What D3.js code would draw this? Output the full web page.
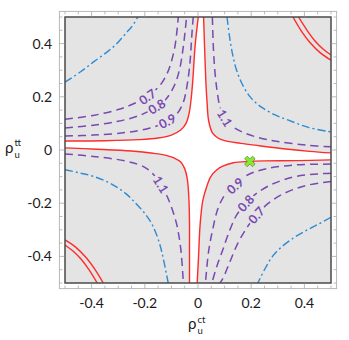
<!DOCTYPE html>
<html>
<head>
<meta charset="utf-8">
<script src="https://cdn.jsdelivr.net/npm/d3@7"></script>
<style>
  body { margin: 0; background: #fff; }
  svg { display: block; font-family: Lato, "Open Sans", sans-serif; }
</style>
</head>
<body>
<div id="chart"></div>
<script>
// contour plot, rho_u^ct vs rho_u^tt

var width = 349,
    height = 340;

// tick labels
var xTicks = [-0.4, -0.2, 0, 0.2, 0.4];
var yTicks = [-0.4, -0.2, 0, 0.2, 0.4];

// red boundary curves around the white region
var redTL = [[-0.5,0.034],[-0.35,0.035],[-0.22,0.039],[-0.15,0.045],[-0.1,0.056],[-0.065,0.075],[-0.045,0.1],[-0.033,0.14],[-0.025,0.2],[-0.019,0.27],[-0.011,0.39],[0.001,0.5]];
var redTR = [[0.021,0.5],[0.025,0.38],[0.029,0.27],[0.034,0.18],[0.04,0.11],[0.055,0.063],[0.075,0.045],[0.1,0.035],[0.16,0.025],[0.23,0.016],[0.33,0.004],[0.42,-0.005],[0.5,-0.011]];
var redBR = [[0.5,-0.037],[0.37,-0.04],[0.25,-0.041],[0.19,-0.043],[0.133,-0.048],[0.093,-0.061],[0.07,-0.075],[0.048,-0.1],[0.032,-0.14],[0.018,-0.19],[0.008,-0.28],[0.002,-0.4],[-0.003,-0.5]];
var redBL = [[-0.032,-0.5],[-0.032,-0.38],[-0.032,-0.27],[-0.034,-0.19],[-0.04,-0.11],[-0.05,-0.07],[-0.065,-0.045],[-0.09,-0.03],[-0.12,-0.02],[-0.17,-0.012],[-0.25,-0.004],[-0.38,0.003],[-0.5,0.008]];

// red double lines in the corners
var redCornerTR1 = [[0.378,0.5],[0.41,0.45],[0.44,0.41],[0.47,0.38],[0.5,0.357]];
var redCornerTR2 = [[0.357,0.5],[0.39,0.445],[0.42,0.405],[0.46,0.365],[0.5,0.338]];
var redCornerBL1 = [[-0.5,-0.357],[-0.47,-0.38],[-0.44,-0.41],[-0.41,-0.45],[-0.379,-0.5]];
var redCornerBL2 = [[-0.5,-0.338],[-0.46,-0.365],[-0.42,-0.405],[-0.39,-0.445],[-0.356,-0.5]];

// blue dash-dot curves
var blueTL = [[-0.5,0.255],[-0.44,0.295],[-0.39,0.333],[-0.34,0.37],[-0.305,0.4],[-0.27,0.44],[-0.248,0.465],[-0.226,0.5]];
var blueTR = [[0.109,0.5],[0.118,0.43],[0.13,0.36],[0.145,0.3],[0.17,0.24],[0.2,0.195],[0.24,0.16],[0.29,0.132],[0.34,0.112],[0.415,0.085],[0.5,0.068]];
var blueBR = [[0.5,-0.253],[0.45,-0.28],[0.406,-0.303],[0.36,-0.33],[0.31,-0.368],[0.28,-0.4],[0.25,-0.45],[0.225,-0.5]];
var blueBL = [[-0.5,-0.074],[-0.45,-0.085],[-0.394,-0.099],[-0.33,-0.125],[-0.27,-0.165],[-0.23,-0.205],[-0.195,-0.245],[-0.17,-0.285],[-0.145,-0.35],[-0.128,-0.42],[-0.112,-0.5]];

// purple dashed contours
var p07TL = [[-0.5,0.116],[-0.394,0.13],[-0.3,0.152],[-0.24,0.175],[-0.185,0.205],[-0.143,0.243],[-0.115,0.29],[-0.098,0.34],[-0.085,0.4],[-0.074,0.5]];
var p08TL = [[-0.5,0.083],[-0.394,0.093],[-0.3,0.108],[-0.22,0.13],[-0.16,0.16],[-0.12,0.192],[-0.09,0.24],[-0.07,0.3],[-0.055,0.39],[-0.043,0.5]];
var p09TL = [[-0.5,0.053],[-0.394,0.056],[-0.27,0.066],[-0.18,0.083],[-0.12,0.105],[-0.08,0.135],[-0.055,0.18],[-0.04,0.25],[-0.03,0.33],[-0.024,0.42],[-0.018,0.5]];
var p09BR = [[0.5,-0.053],[0.368,-0.056],[0.26,-0.07],[0.19,-0.092],[0.14,-0.125],[0.1,-0.17],[0.075,-0.22],[0.055,-0.3],[0.04,-0.38],[0.028,-0.5]];
var p08BR = [[0.5,-0.087],[0.37,-0.099],[0.28,-0.128],[0.22,-0.163],[0.18,-0.2],[0.145,-0.245],[0.12,-0.3],[0.095,-0.37],[0.07,-0.44],[0.052,-0.5]];
var p07BR = [[0.5,-0.118],[0.4,-0.135],[0.32,-0.165],[0.265,-0.2],[0.22,-0.245],[0.185,-0.29],[0.15,-0.35],[0.12,-0.42],[0.095,-0.48],[0.083,-0.5]];
var p11TR = [[0.054,0.5],[0.058,0.38],[0.064,0.29],[0.072,0.22],[0.082,0.165],[0.1,0.12],[0.13,0.088],[0.17,0.066],[0.23,0.046],[0.3,0.032],[0.41,0.018],[0.5,0.012]];
var p11BL = [[-0.5,-0.015],[-0.394,-0.024],[-0.27,-0.042],[-0.2,-0.065],[-0.165,-0.095],[-0.14,-0.13],[-0.118,-0.17],[-0.098,-0.22],[-0.08,-0.28],[-0.065,-0.37],[-0.055,-0.5]];

var purpleCurves = [p07TL, p08TL, p09TL, p09BR, p08BR, p07BR, p11TR, p11BL];
var blueCurves = [blueTL, blueTR, blueBR, blueBL];
var redCurves = [redTL, redTR, redBR, redBL, redCornerTR1, redCornerTR2, redCornerBL1, redCornerBL2];

// contour labels: text, curve, anchor point
var labelTexts = ["0.7", "0.8", "0.9", "0.9", "0.8", "0.7", "1.1", "1.1"];
var labelCurves = [p07TL, p08TL, p09TL, p09BR, p08BR, p07BR, p11TR, p11BL];
var labelPoints = [[-0.19,0.2],[-0.155,0.163],[-0.115,0.108],[0.14,-0.135],[0.18,-0.2],[0.22,-0.245],[0.1,0.12],[-0.14,-0.13]];

// marked point
var markerPoint = [0.195, -0.043];

var bg = "#e4e4e4",
    red = "#ff2a2a",
    blue = "#2e8bd2",
    purple = "#7a48b3";

var x = d3.scaleLinear().domain([-0.5, 0.5]).range([65, 331]);
var y = d3.scaleLinear().domain([-0.5, 0.5]).range([283, 17]);
var pad = 0.021;

var svg = d3.select("#chart").append("svg")
    .attr("width", width)
    .attr("height", height);

svg.append("clipPath").attr("id", "plotclip")
  .append("rect")
    .attr("x", x(-0.5)).attr("y", y(0.5))
    .attr("width", x(0.5) - x(-0.5)).attr("height", y(-0.5) - y(0.5));

var line = d3.line()
    .x(function(d) { return x(d[0]); })
    .y(function(d) { return y(d[1]); })
    .curve(d3.curveCatmullRom.alpha(0.5));

// gray background
svg.append("rect")
    .attr("x", x(-0.5)).attr("y", y(0.5))
    .attr("width", x(0.5) - x(-0.5)).attr("height", y(-0.5) - y(0.5))
    .attr("fill", bg);

var plot = svg.append("g").attr("clip-path", "url(#plotclip)");

// white region between the red curves
var regionPath = [redTL, redTR, redBR, redBL].map(function(c, i) {
  var s = line(c);
  return i == 0 ? s : s.replace(/^M/, "L");
}).join("") + "Z";
plot.append("path").attr("d", regionPath).attr("fill", "#fff");

plot.selectAll(".blue").data(blueCurves)
  .enter().append("path")
    .attr("class", "blue")
    .attr("d", line)
    .attr("fill", "none")
    .attr("stroke", blue)
    .attr("stroke-width", 1.4)
    .attr("stroke-dasharray", "8,3,2,3");

plot.selectAll(".purple").data(purpleCurves)
  .enter().append("path")
    .attr("class", "purple")
    .attr("d", line)
    .attr("fill", "none")
    .attr("stroke", purple)
    .attr("stroke-width", 1.5)
    .attr("stroke-dasharray", "8,5");

plot.selectAll(".red").data(redCurves)
  .enter().append("path")
    .attr("class", "red")
    .attr("d", line)
    .attr("fill", "none")
    .attr("stroke", red)
    .attr("stroke-width", 1.4);

// contour labels, rotated along the curve
labelTexts.forEach(function(t, i) {
  var c = labelCurves[i], p = labelPoints[i];
  var best = 1;
  c.forEach(function(d, j) {
    if (j > 0 && j < c.length - 1) {
      var dd = Math.hypot(d[0] - p[0], d[1] - p[1]);
      var db = Math.hypot(c[best][0] - p[0], c[best][1] - p[1]);
      if (dd < db) best = j;
    }
  });
  var a = Math.atan2(y(c[best + 1][1]) - y(c[best - 1][1]), x(c[best + 1][0]) - x(c[best - 1][0])) * 180 / Math.PI;
  if (a > 90) a -= 180;
  if (a < -90) a += 180;
  var g = plot.append("g")
      .attr("transform", "translate(" + x(p[0]) + "," + y(p[1]) + ") rotate(" + a + ")");
  g.append("rect")
      .attr("x", -10.5).attr("y", -5).attr("width", 21).attr("height", 10)
      .attr("fill", bg);
  g.append("text")
      .attr("text-anchor", "middle")
      .attr("dy", "0.36em")
      .attr("fill", purple)
      .style("font-size", "12.5px")
      .style("font-weight", "bold")
      .text(t);
});

// inner dark frame
svg.append("rect")
    .attr("x", x(-0.5)).attr("y", y(0.5))
    .attr("width", x(0.5) - x(-0.5)).attr("height", y(-0.5) - y(0.5))
    .attr("fill", "none")
    .attr("stroke", "#4a4a4a")
    .attr("stroke-width", 1.5);

// marker
svg.append("path")
    .attr("d", d3.symbol().type(d3.symbolCross).size(70))
    .attr("transform", "translate(" + x(markerPoint[0]) + "," + y(markerPoint[1]) + ") rotate(45)")
    .attr("fill", "#86ea2c")
    .attr("stroke", "#6b8f5a")
    .attr("stroke-width", 0.8);

// outer frame with ticks
var fx0 = x(-0.5 - pad), fx1 = x(0.5 + pad), fy0 = y(0.5 + pad), fy1 = y(-0.5 - pad);
svg.append("rect")
    .attr("x", fx0).attr("y", fy0)
    .attr("width", fx1 - fx0).attr("height", fy1 - fy0)
    .attr("fill", "none")
    .attr("stroke", "#b8b8b8")
    .attr("stroke-width", 1);

var allTicks = x.ticks(20);
function tickLen(v) { return xTicks.some(function(t) { return Math.abs(t - v) < 1e-6; }) ? 5 : 3; }
var tg = svg.append("g").attr("stroke", "#a8a8a8").attr("stroke-width", 0.8);
allTicks.forEach(function(v) {
  var L = tickLen(v);
  tg.append("line").attr("x1", x(v)).attr("x2", x(v)).attr("y1", fy1).attr("y2", fy1 - L);
  tg.append("line").attr("x1", x(v)).attr("x2", x(v)).attr("y1", fy0).attr("y2", fy0 + L);
  tg.append("line").attr("y1", y(v)).attr("y2", y(v)).attr("x1", fx0).attr("x2", fx0 + L);
  tg.append("line").attr("y1", y(v)).attr("y2", y(v)).attr("x1", fx1).attr("x2", fx1 - L);
});

svg.selectAll(".xlab").data(xTicks)
  .enter().append("text")
    .attr("class", "xlab")
    .attr("x", function(d) { return x(d); })
    .attr("y", 308)
    .attr("text-anchor", "middle")
    .style("font-size", "14px")
    .attr("fill", "#1a1a1a")
    .text(function(d) { return String(d); });

svg.selectAll(".ylab").data(yTicks)
  .enter().append("text")
    .attr("class", "ylab")
    .attr("x", 52)
    .attr("y", function(d) { return y(d); })
    .attr("dy", "0.36em")
    .attr("text-anchor", "end")
    .style("font-size", "14px")
    .attr("fill", "#1a1a1a")
    .text(function(d) { return String(d); });

// axis titles
function title(x0, yb, sup, sub) {
  var g = svg.append("g").attr("fill", "#1a1a1a");
  g.append("text").attr("x", x0).attr("y", yb).style("font-size", "15px").text("\u03c1");
  g.append("text").attr("x", x0 + 9.5).attr("y", yb - 6.5).style("font-size", "9.5px").text(sup);
  g.append("text").attr("x", x0 + 9.5).attr("y", yb + 5).style("font-size", "9.5px").text(sub);
}
title(188, 329, "ct", "u");
title(5, 152.5, "tt", "u");
</script>
</body>
</html>
